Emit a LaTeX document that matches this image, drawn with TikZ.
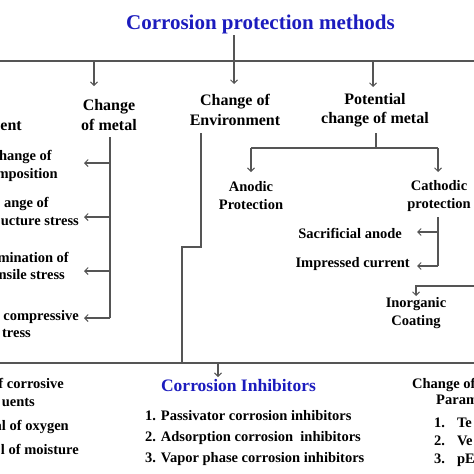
\documentclass[tikz,border=0pt]{standalone}
\usepackage{fontspec}
\setmainfont{Liberation Serif}
\usetikzlibrary{arrows.meta}
\definecolor{ttl}{RGB}{28,28,190}
\definecolor{ln}{RGB}{85,85,85}
\tikzset{
  conn/.style={draw=ln, line width=1.2pt},
  arr/.style={conn, -{Straight Barb[length=3.5pt,width=7pt,line width=1pt]}},
  head/.style={font=\bfseries\fontsize{16}{19.5}\selectfont, align=center, inner sep=0pt},
  sub/.style={font=\bfseries\fontsize{14.5}{18}\selectfont, align=center, inner sep=0pt},
  subl/.style={font=\bfseries\fontsize{14.5}{18}\selectfont, inner sep=0pt},
  lft/.style={subl, anchor=base east},
}
\begin{document}
\begin{tikzpicture}[x=1pt,y=-1pt]
\useasboundingbox (0,0) rectangle (474,474);
\fill[white] (0,0) rectangle (474,474);
\clip (0,0) rectangle (474,474);

% title
\node[font=\bfseries\fontsize{21}{24}\selectfont, text=ttl, inner sep=0pt, anchor=base] (title) at (260.5,29.5) {Corrosion protection methods};

% top level headings
\node[head] (metal) at (109,115) {Change\\of metal};
\node[head] (env) at (235,110) {Change of\\Environment};
\node[head] (pot) at (375,110) {Potential\\change of metal};
\node[head, anchor=base east] (entx) at (22,130.5) {ent};

% coordinates for top bus
\coordinate (busL) at (0,61);
\coordinate (busR) at (474,61);
\coordinate (tA) at (234,35);
\coordinate (tB) at (234,84);
\coordinate (m0) at (94,61);
\coordinate (m1) at (94,86);
\coordinate (p0) at (373,61);
\coordinate (p1) at (373,87);
\draw[conn] (busL) -- (busR);
\draw[arr] (tA) -- (tB);
\draw[arr] (m0) -- (m1);
\draw[arr] (p0) -- (p1);

% change of metal bracket
\coordinate (mb0) at (110,137);
\coordinate (mb1) at (110,163);
\coordinate (mb2) at (110,217);
\coordinate (mb3) at (110,271);
\coordinate (mb4) at (110,318);
\coordinate (ma1) at (84,163);
\coordinate (ma2) at (84,217);
\coordinate (ma3) at (84,271);
\coordinate (ma4) at (84,318);
\draw[conn] (mb0) -- (mb4);
\draw[arr] (mb1) -- (ma1);
\draw[arr] (mb2) -- (ma2);
\draw[arr] (mb3) -- (ma3);
\draw[arr] (mb4) -- (ma4);

\node[lft] (l1a) at (52,160) {hange of};
\node[lft] (l1b) at (58,178) {mposition};
\node[lft] (l2a) at (49,207) {ange of};
\node[lft] (l2b) at (79,225) {ucture stress};
\node[lft] (l3a) at (69,262) {mination of};
\node[lft] (l3b) at (65,279) {nsile stress};
\node[lft] (l4a) at (79,320) {compressive};
\node[lft] (l4b) at (31,337) {tress};

% change of environment path
\coordinate (e0) at (201,133);
\coordinate (e1) at (201,247);
\coordinate (e2) at (182,247);
\coordinate (e3) at (182,363);
\draw[conn] (e0) -- (e1) -- (e2) -- (e3);

% bottom bus
\coordinate (bL) at (0,363);
\coordinate (bR) at (474,363);
\draw[conn] (bL) -- (bR);
\coordinate (ci0) at (218,363);
\coordinate (ci1) at (218,377);
\draw[arr] (ci0) -- (ci1);

% potential branch
\coordinate (q0) at (376,133);
\coordinate (q1) at (376,148);
\coordinate (qa) at (251,148);
\coordinate (qb) at (438,148);
\coordinate (qa1) at (251,172);
\coordinate (qb1) at (438,172);
\draw[conn] (q0) -- (q1);
\draw[conn] (qa) -- (qb);
\draw[arr] (qa) -- (qa1);
\draw[arr] (qb) -- (qb1);

\node[sub] (anod) at (251,196) {Anodic\\Protection};
\node[sub] (cath) at (439,196) {Cathodic\\protection};

% cathodic bracket
\coordinate (c0) at (438,217);
\coordinate (c1) at (438,232);
\coordinate (c2) at (438,266);
\coordinate (c1a) at (417,232);
\coordinate (c2a) at (417,266);
\draw[conn] (c0) -- (c2);
\draw[arr] (c1) -- (c1a);
\draw[arr] (c2) -- (c2a);
\node[lft] (sac) at (402,238) {Sacrificial anode};
\node[lft] (imp) at (410,267.5) {Impressed current};

% inorganic coating
\coordinate (i0) at (474,286);
\coordinate (i1) at (416,286);
\coordinate (i2) at (416,296);
\draw[arr] (i0) -- (i1) -- (i2);
\node[sub] (inorg) at (416,313.5) {Inorganic\\Coating};

% bottom left
\node[lft] (b1) at (64,388) {f corrosive};
\node[lft] (b2) at (35,406) {uents};
\node[lft] (b3) at (69,430) {al of oxygen};
\node[lft] (b4) at (79,454) {l of moisture};

% corrosion inhibitors
\node[font=\bfseries\fontsize{17.5}{20}\selectfont, text=ttl, inner sep=0pt, anchor=base] (ci) at (238.5,391) {Corrosion Inhibitors};
\node[subl, anchor=base west] (ci1t) at (145,420) {1. Passivator corrosion inhibitors};
\node[subl, anchor=base west] (ci2t) at (145,441) {2. Adsorption corrosion\ \ inhibitors};
\node[subl, anchor=base west] (ci3t) at (145,462) {3. Vapor phase corrosion inhibitors};

% right bottom
\node[subl, anchor=base west] (r0) at (412,388) {Change of};
\node[subl, anchor=base west] (r1) at (436,404) {Param};
\node[subl, anchor=base west] (r2) at (434,427) {1.\hspace{12pt}Te};
\node[subl, anchor=base west] (r3) at (434,445) {2.\hspace{12pt}Ve};
\node[subl, anchor=base west] (r4) at (434,463) {3.\hspace{12pt}pE};
\end{tikzpicture}
\end{document}
